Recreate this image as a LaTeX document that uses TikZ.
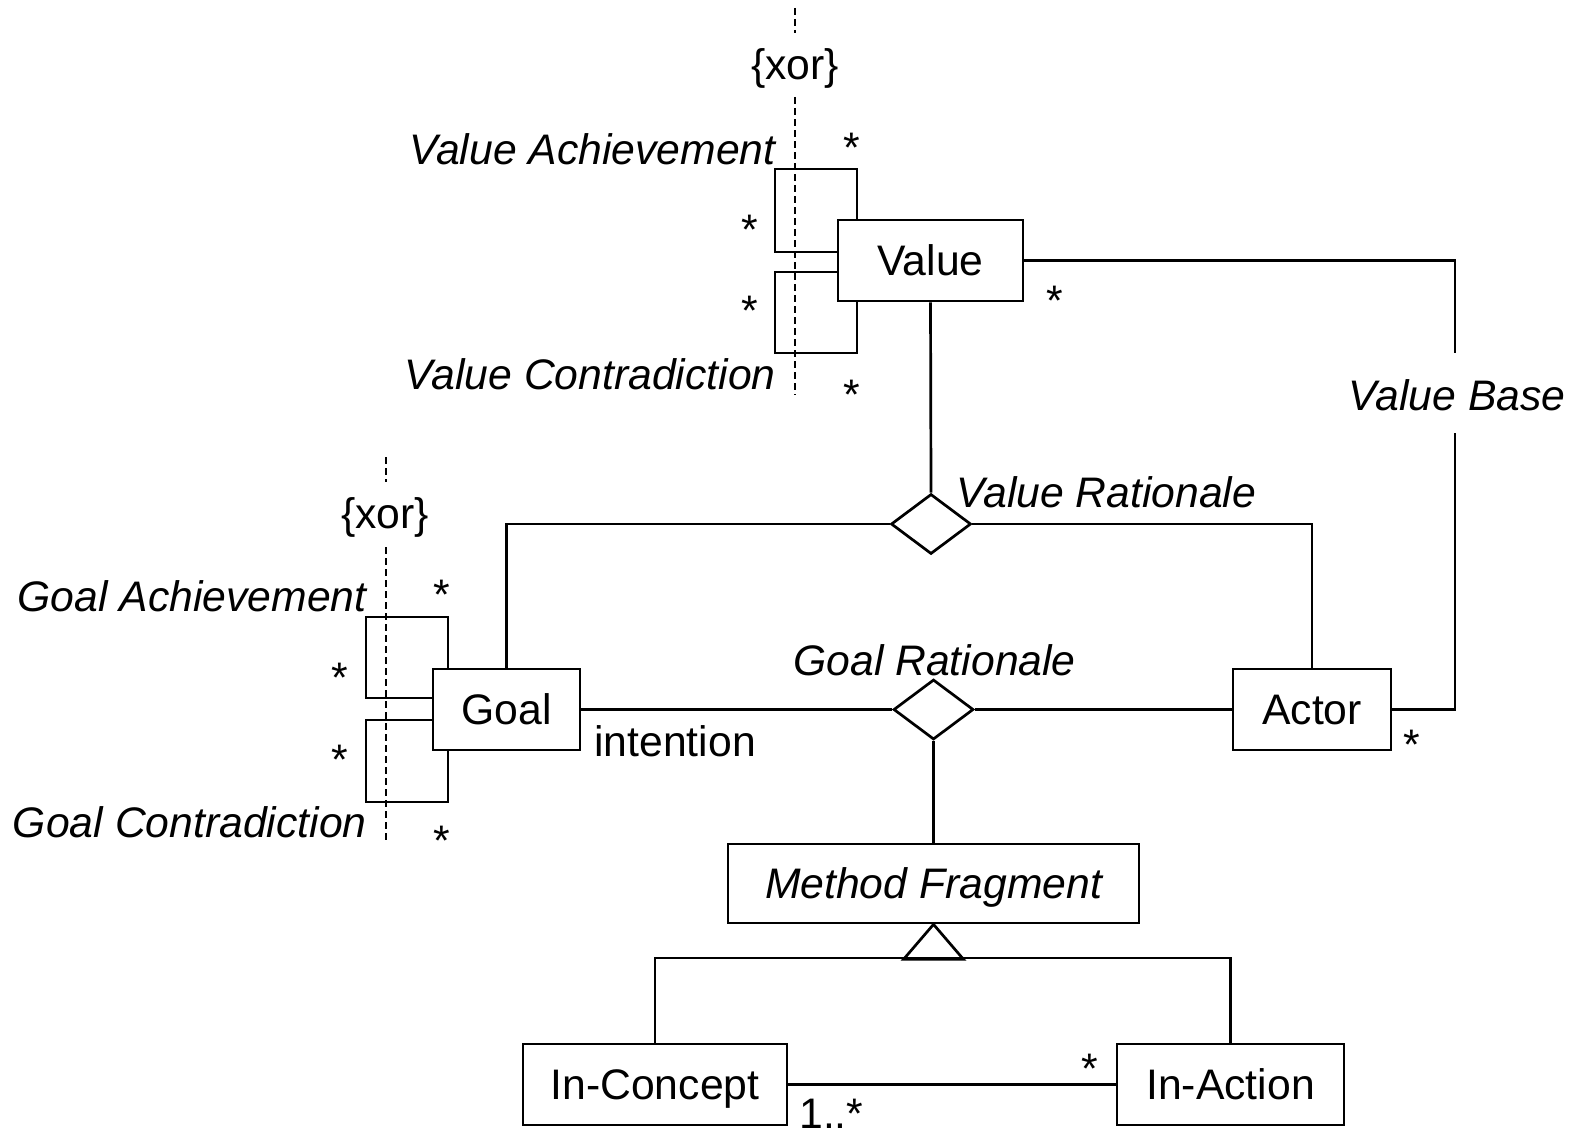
\documentclass[tikz,border=0pt]{standalone}
\usepackage{fontspec}
\setmainfont{Liberation Sans}
\usetikzlibrary{shapes.geometric}
\begin{document}
\begin{tikzpicture}[x=0.5pt,y=-0.5pt,
  font=\fontsize{21.35}{25}\selectfont,
  line width=1.35pt,
  cls/.style={draw,inner sep=0pt,minimum height=40.5pt,text height=15.3pt,text depth=0pt},
  assoc/.style={draw,diamond,inner sep=0pt,minimum width=40pt,minimum height=30pt},
  lbl/.style={inner sep=0pt,anchor=base},
  ilbl/.style={lbl,font=\fontsize{21.35}{25}\selectfont\itshape},
  mult/.style={inner sep=0pt,anchor=base},
  xorline/.style={line width=1.1pt,dash pattern=on 3.5pt off 2pt}]
\useasboundingbox (0,0) rectangle (1577,1129);

% classes
\node[cls,minimum width=92.5pt] (Value) at (930.5,260.5) {Value};
\node[cls,minimum width=73.5pt] (Goal) at (506.5,709.5) {Goal};
\node[cls,minimum width=79pt] (Actor) at (1312,709.5) {Actor};
\node[cls,minimum width=205.5pt,minimum height=39.5pt] (MF) at (933.5,883.5) {\itshape Method Fragment};
\node[cls,minimum width=132pt] (IC) at (655,1084.5) {In-Concept};
\node[cls,minimum width=113.5pt] (IA) at (1230.5,1084.5) {In-Action};

% association diamonds
\node[assoc] (VR) at (931,524) {};
\node[assoc] (GR) at (933.5,709.5) {};

% Value Rationale
\draw (Value.south) -- (VR.north);
\draw (VR.west) -| (Goal.north);
\draw (VR.east) -| (Actor.north);
\node[ilbl,anchor=base west] (vrl) at (955,507) {Value Rationale};

% Goal Rationale
\draw (Goal.east) -- (GR.west);
\draw (GR.east) -- (Actor.west);
\draw (GR.south) -- (MF.north);
\node[ilbl,anchor=base west] (grl) at (792,675) {Goal Rationale};
\node[lbl,anchor=base west] (intl) at (593,756) {intention};

% Value Base
\coordinate (vbt) at (1455,353);
\coordinate (vbb) at (1455,433);
\draw (Value.east) -| (vbt);
\draw (vbb) |- (Actor.east);
\node[ilbl] (vbl) at (1457,410) {Value Base};
\node[mult] (m1) at (1055,315) {*};
\node[mult] (m2) at (1412,759) {*};

% Value self associations
\coordinate (va) at (857,169);
\coordinate (vc) at (857,353);
\draw (Value.west) ++(0,-8.5) -| (775,169) -- (va) -- (va |- Value.north);
\draw (Value.west) ++(0,11.5) -| (775,353) -- (vc) -- (vc |- Value.south);
\node[ilbl,anchor=base east] (val) at (777,164) {Value Achievement};
\node[ilbl,anchor=base east] (vcl) at (777,389) {Value Contradiction};
\node[mult] (m3) at (852,162) {*};
\node[mult] (m4) at (750,244) {*};
\node[mult] (m5) at (750,325) {*};
\node[mult] (m6) at (852,409) {*};
\node[lbl] (xor1) at (795,80) {\{xor\}};
\coordinate (x1a) at (795,8);
\coordinate (x1b) at (795,33);
\coordinate (x1c) at (795,97);
\coordinate (x1d) at (795,395);
\draw[xorline] (x1a) -- (x1b);
\draw[xorline] (x1c) -- (x1d);

% Goal self associations
\coordinate (ga) at (448,617);
\coordinate (gc) at (448,802);
\draw (Goal.west) ++(0,-11.5) -| (366,617) -- (ga) -- (ga |- Goal.north);
\draw (Goal.west) ++(0,10.5) -| (366,802) -- (gc) -- (gc |- Goal.south);
\node[ilbl,anchor=base east] (gal) at (368,611) {Goal Achievement};
\node[ilbl,anchor=base east] (gcl) at (368,837) {Goal Contradiction};
\node[mult] (m7) at (442,609) {*};
\node[mult] (m8) at (340,692) {*};
\node[mult] (m9) at (340,774) {*};
\node[mult] (m10) at (442,855) {*};
\node[lbl] (xor2) at (385,528) {\{xor\}};
\coordinate (x2a) at (386,457);
\coordinate (x2b) at (386,482);
\coordinate (x2c) at (386,547);
\coordinate (x2d) at (386,840);
\draw[xorline] (x2a) -- (x2b);
\draw[xorline] (x2c) -- (x2d);

% generalization
\coordinate (gen) at (933.5,958);
\draw (MF.south) -- ++(-30,35) -- ++(60,0) -- cycle;
\draw (IC.north) |- (gen) -| (IA.north);

% In-Concept -- In-Action
\draw (IC.east) -- (IA.west);
\node[mult] (m11) at (1090,1083) {*};
\node[lbl,anchor=base west] (m12) at (798,1128) {1..*};
\end{tikzpicture}
\end{document}
